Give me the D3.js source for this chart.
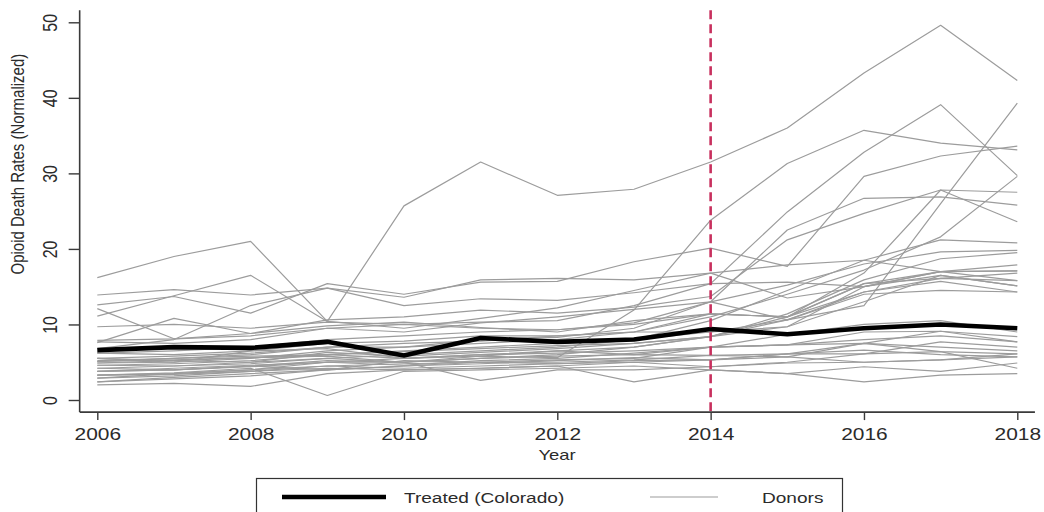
<!DOCTYPE html>
<html>
<head>
<meta charset="utf-8">
<script src="https://cdn.jsdelivr.net/npm/d3@7"></script>
<style>
  html, body { margin: 0; padding: 0; background: #fff; }
  svg { display: block; font-family: "Liberation Sans", Arial, sans-serif; }
</style>
</head>
<body>
<svg id="chart" width="1044" height="512"></svg>
<script>
// Years on the x axis
const years = [2006, 2007, 2008, 2009, 2010, 2011, 2012, 2013, 2014, 2015, 2016, 2017, 2018];

// Treated unit: Colorado
const colorado = [6.6, 7.0, 6.9, 7.7, 5.9, 8.2, 7.7, 8.0, 9.4, 8.7, 9.5, 10.0, 9.5];

// Donor pool (one array per donor state, 2006-2018)
const donors = [
  [16.2, 19.0, 21.0, 10.4, 25.7, 31.5, 27.1, 27.9, 31.5, 36.0, 43.3, 49.6, 42.3],
  [13.9, 14.6, 13.9, 14.8, 13.6, 15.9, 16.1, 15.9, 16.8, 17.9, 18.5, 17.0, 17.1],
  [12.6, 13.7, 11.5, 15.4, 14.0, 15.6, 15.7, 18.3, 20.1, 17.7, 29.6, 32.3, 33.6],
  [4.6, 4.8, 5.2, 6.0, 5.5, 5.8, 5.6, 11.9, 23.8, 31.3, 35.7, 34.0, 33.1],
  [9.7, 10.0, 9.5, 10.3, 10.0, 10.3, 10.5, 12.5, 15.4, 24.9, 32.8, 39.1, 29.7],
  [5.2, 5.5, 5.8, 6.0, 6.4, 6.8, 7.2, 7.5, 8.4, 10.6, 12.5, 26.0, 39.3],
  [7.9, 8.1, 8.8, 10.6, 11.0, 11.9, 11.5, 12.3, 13.7, 21.2, 24.7, 27.8, 23.6],
  [7.7, 7.5, 8.0, 9.5, 9.0, 10.2, 11.0, 12.0, 13.0, 22.5, 26.7, 26.9, 25.8],
  [6.2, 6.5, 7.0, 8.0, 8.5, 9.0, 9.3, 10.0, 11.4, 11.0, 16.8, 27.8, 27.5],
  [5.5, 5.8, 6.2, 7.0, 7.5, 7.8, 8.5, 9.0, 11.0, 14.0, 17.2, 21.6, 29.6],
  [4.2, 4.5, 5.0, 5.5, 6.0, 6.5, 7.0, 8.0, 10.5, 14.5, 18.5, 21.2, 20.8],
  [12.1, 8.1, 8.5, 9.5, 10.0, 9.5, 9.3, 10.2, 13.0, 15.2, 18.0, 19.6, 19.8],
  [3.8, 4.0, 4.5, 5.2, 5.0, 5.5, 6.0, 7.0, 8.4, 11.4, 15.9, 18.7, 19.5],
  [11.1, 13.8, 16.5, 10.4, 9.5, 10.8, 12.2, 14.5, 16.8, 13.5, 15.0, 17.0, 17.9],
  [7.6, 10.8, 8.8, 9.8, 10.3, 9.6, 9.0, 10.5, 11.4, 11.0, 15.4, 16.1, 15.8],
  [6.8, 8.0, 12.5, 14.8, 12.5, 13.4, 13.2, 14.2, 15.4, 15.6, 15.0, 16.5, 15.1],
  [4.9, 5.0, 5.5, 6.5, 7.0, 7.5, 8.0, 9.0, 11.4, 11.0, 14.3, 16.1, 16.8],
  [5.1, 5.5, 6.0, 7.0, 7.0, 8.0, 8.3, 9.5, 13.0, 10.6, 14.3, 15.7, 14.3],
  [3.3, 3.5, 4.0, 5.0, 5.5, 6.0, 6.5, 7.0, 8.4, 9.7, 15.0, 17.0, 15.8],
  [2.9, 3.5, 4.0, 4.5, 4.8, 5.0, 5.3, 5.5, 7.0, 7.3, 9.0, 9.1, 8.4],
  [4.6, 4.5, 4.8, 5.5, 5.0, 5.5, 5.8, 6.0, 5.9, 6.1, 7.5, 9.1, 7.7],
  [3.8, 4.0, 4.5, 4.0, 5.2, 5.0, 4.8, 5.0, 5.3, 6.1, 6.1, 7.7, 7.0],
  [2.4, 3.0, 3.5, 4.0, 4.5, 5.0, 5.0, 5.3, 5.9, 5.7, 7.5, 6.4, 6.1],
  [2.0, 2.2, 1.8, 3.5, 4.0, 4.2, 4.5, 5.0, 4.4, 4.9, 5.0, 5.3, 5.7],
  [3.3, 3.6, 4.2, 0.6, 3.8, 4.0, 4.2, 4.5, 4.0, 3.5, 4.4, 3.8, 4.9],
  [4.2, 4.0, 4.4, 5.0, 5.0, 2.6, 4.0, 4.0, 4.4, 5.0, 6.1, 6.4, 4.2],
  [2.9, 3.2, 3.8, 4.2, 4.0, 4.2, 4.5, 2.4, 4.0, 3.5, 2.4, 3.3, 3.5],
  [5.5, 5.2, 5.6, 5.8, 5.0, 5.8, 6.5, 6.0, 7.0, 7.3, 7.5, 7.0, 6.5],
  [6.2, 6.0, 6.5, 6.8, 5.5, 6.0, 6.2, 6.5, 7.0, 8.7, 10.0, 10.5, 9.0],
  [5.1, 5.3, 5.6, 6.0, 6.5, 7.0, 7.5, 8.0, 9.0, 9.7, 13.0, 16.5, 15.1],
  [4.9, 5.2, 5.0, 6.3, 5.8, 6.3, 6.8, 7.5, 8.4, 11.0, 15.4, 17.0, 17.1],
  [3.8, 4.2, 4.6, 5.0, 4.6, 5.2, 5.5, 6.2, 7.0, 7.3, 8.0, 8.5, 7.7],
  [2.4, 2.8, 3.2, 4.0, 4.5, 4.8, 5.2, 5.6, 5.3, 6.1, 6.6, 6.0, 5.7],
  [3.3, 3.4, 3.8, 4.5, 4.2, 4.5, 4.8, 5.2, 5.3, 5.7, 5.0, 5.3, 6.1],
  [5.5, 5.0, 6.5, 7.5, 7.8, 8.5, 8.5, 9.0, 9.0, 10.6, 14.0, 14.5, 14.3]
];

// Tick labels and texts
const xTicks = [2006, 2008, 2010, 2012, 2014, 2016, 2018];
const yTicks = [0, 10, 20, 30, 40, 50];
const treatmentYear = 2014;
const xTitle = "Year";
const yTitle = "Opioid Death Rates (Normalized)";
const legendLabels = ["Treated (Colorado)", "Donors"];

// Axis line extents (in data units)
const xExtent = [2005.77, 2018.23];
const yExtent = [-1.6, 51.6];

const svg = d3.select("#chart");
const x = d3.scaleLinear().domain([2006, 2018]).range([97.3, 1017.3]);
const y = d3.scaleLinear().domain([0, 50]).range([400, 22.3]);

const stretch = 1.23;   // wide lettering
const axisColor = "#3a3a3a";
const textColor = "#2b2b2b";

// Donor lines
const line = d3.line().x((d, i) => x(years[i])).y(d => y(d));
svg.append("g")
  .selectAll("path")
  .data(donors)
  .join("path")
  .attr("d", line)
  .attr("fill", "none")
  .attr("stroke", "#9c9c9c")
  .attr("stroke-width", 1.2)
  .attr("stroke-linejoin", "round");

// Treated line
svg.append("path")
  .datum(colorado)
  .attr("d", line)
  .attr("fill", "none")
  .attr("stroke", "#000")
  .attr("stroke-width", 4.6)
  .attr("stroke-linejoin", "round");

// Treatment start marker
svg.append("line")
  .attr("x1", x(treatmentYear)).attr("x2", x(treatmentYear))
  .attr("y1", y(yExtent[1])).attr("y2", y(yExtent[0]))
  .attr("stroke", "#c8305e")
  .attr("stroke-width", 2.6)
  .attr("stroke-dasharray", "9,5");

// Y axis
const yAxis = svg.append("g")
  .attr("transform", `translate(${x(xExtent[0])},0)`)
  .call(d3.axisLeft(y).tickValues(yTicks).tickSize(11).tickFormat(d3.format("d")));
yAxis.select(".domain").remove();
yAxis.selectAll(".tick line").attr("stroke", axisColor).attr("stroke-width", 1.4);
yAxis.selectAll(".tick text")
  .attr("x", null).attr("dy", null)
  .attr("transform", `translate(-23,0) scale(${stretch},1) rotate(-90)`)
  .attr("text-anchor", "middle")
  .attr("fill", textColor)
  .style("font-size", "16px")
  .style("font-family", "'Liberation Sans', Arial, sans-serif");
svg.append("line")
  .attr("x1", x(xExtent[0])).attr("x2", x(xExtent[0]))
  .attr("y1", y(yExtent[0])).attr("y2", y(yExtent[1]))
  .attr("stroke", axisColor).attr("stroke-width", 1.6);

// X axis
const xAxis = svg.append("g")
  .attr("transform", `translate(0,${y(yExtent[0])})`)
  .call(d3.axisBottom(x).tickValues(xTicks).tickSize(8).tickFormat(d3.format("d")));
xAxis.select(".domain").remove();
xAxis.selectAll(".tick line").attr("stroke", axisColor).attr("stroke-width", 1.4);
xAxis.selectAll(".tick text")
  .attr("y", null).attr("dy", null)
  .attr("transform", `translate(0,27.5) scale(${stretch},1)`)
  .attr("text-anchor", "middle")
  .attr("fill", textColor)
  .style("font-size", "17px")
  .style("font-family", "'Liberation Sans', Arial, sans-serif");
svg.append("line")
  .attr("x1", x(xExtent[0])).attr("x2", x(xExtent[1]))
  .attr("y1", y(yExtent[0])).attr("y2", y(yExtent[0]))
  .attr("stroke", axisColor).attr("stroke-width", 1.6);

// Axis titles
svg.append("text")
  .attr("transform", `translate(557,460) scale(${stretch},1)`)
  .attr("text-anchor", "middle")
  .attr("fill", textColor)
  .style("font-size", "15px")
  .text(xTitle);
svg.append("text")
  .attr("transform", `translate(24,${(y(yExtent[0]) + y(yExtent[1])) / 2 - 47}) scale(${stretch},1) rotate(-90)`)
  .attr("text-anchor", "middle")
  .attr("fill", textColor)
  .style("font-size", "15px")
  .text(yTitle);

// Legend
const lg = svg.append("g");
lg.append("rect")
  .attr("x", 256.5).attr("y", 478.5)
  .attr("width", 586).attr("height", 45)
  .attr("fill", "#fff")
  .attr("stroke", "#333").attr("stroke-width", 1.2);
lg.append("line")
  .attr("x1", 282).attr("x2", 386).attr("y1", 497).attr("y2", 497)
  .attr("stroke", "#000").attr("stroke-width", 4.6);
lg.append("text")
  .attr("transform", `translate(404,503) scale(${stretch},1)`)
  .attr("fill", textColor)
  .style("font-size", "15.5px")
  .text(legendLabels[0]);
lg.append("line")
  .attr("x1", 650).attr("x2", 718).attr("y1", 497).attr("y2", 497)
  .attr("stroke", "#9c9c9c").attr("stroke-width", 1.2);
lg.append("text")
  .attr("transform", `translate(762,503) scale(${stretch},1)`)
  .attr("fill", textColor)
  .style("font-size", "15.5px")
  .text(legendLabels[1]);
</script>
</body>
</html>
